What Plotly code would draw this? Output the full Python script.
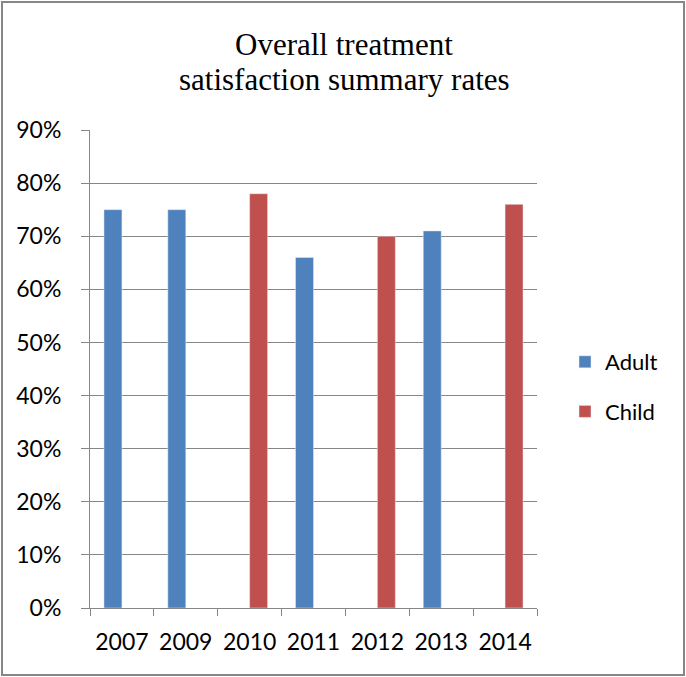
import plotly.graph_objects as go

years = ["2007", "2009", "2010", "2011", "2012", "2013", "2014"]
adult = [0.75, 0.75, None, 0.66, None, 0.71, None]
child = [None, None, 0.78, None, 0.70, None, 0.76]
title_lines = ["Overall treatment", "satisfaction summary rates"]

W, H = 686, 677
L, R, T, B = 90, 149, 130, 69
pw, ph = W - L - R, H - T - B

def px_x(x):
    return (x - L) / pw

def px_y(y):
    return (H - B - y) / ph

grid = "#868686"
sans = "Lato, Calibri, sans-serif"

fig = go.Figure()
fig.add_trace(go.Bar(x=years, y=adult, name="Adult", marker_color="#4F81BD",
                     legendgroup="a"))
fig.add_trace(go.Bar(x=years, y=child, name="Child", marker_color="#C0504D",
                     legendgroup="c"))

fig.update_layout(
    width=W, height=H,
    margin=dict(l=L, r=R, t=T, b=B, pad=0),
    paper_bgcolor="white", plot_bgcolor="white",
    barmode="group", bargap=0.4375, bargroupgap=0,
    font=dict(family=sans, size=23, color="black"),
    showlegend=True,
    legend=dict(x=px_x(565), y=px_y(387), xanchor="left", yanchor="middle",
                font=dict(size=22), tracegroupgap=18, bgcolor="rgba(0,0,0,0)"),
    xaxis=dict(type="category", showgrid=False, showline=True, linecolor=grid,
               linewidth=1, ticks="outside", ticklen=7, tickcolor=grid,
               tickson="boundaries", ticklabelstandoff=13),
    yaxis=dict(range=[0, 0.9], dtick=0.1, tick0=0, tickformat=".0%",
               showgrid=True, gridcolor=grid, gridwidth=1,
               showline=True, linecolor=grid, linewidth=1,
               ticks="outside", ticklen=8, tickcolor=grid,
               ticklabelstandoff=15, zeroline=False),
)

# two-line chart title
for text, yc in zip(title_lines, [45, 79]):
    fig.add_annotation(text=text, xref="paper", yref="paper",
                       x=px_x(344), y=px_y(yc), xanchor="center", yanchor="middle",
                       showarrow=False,
                       font=dict(family="Liberation Serif, Times New Roman, serif",
                                 size=31, color="black"))

# chart border
fig.add_shape(type="rect", xref="paper", yref="paper",
              x0=px_x(2), x1=px_x(684), y0=px_y(675), y1=px_y(2),
              line=dict(color="#868686", width=2), fillcolor="rgba(0,0,0,0)",
              layer="below")

fig.write_html("out.html")
